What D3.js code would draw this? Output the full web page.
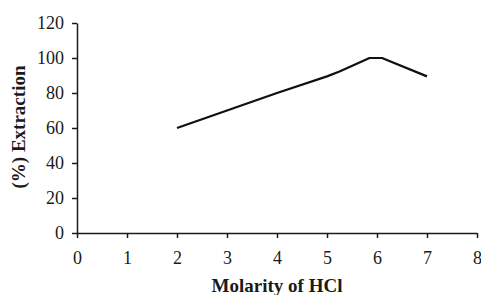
<!DOCTYPE html>
<html>
<head>
<meta charset="utf-8">
<script src="https://cdn.jsdelivr.net/npm/d3@7"></script>
<style>
  html, body { margin: 0; padding: 0; background: #fff; }
  svg { display: block; }
  .axis path, .axis line { stroke: #1a1a1a; stroke-width: 1.5; }
</style>
</head>
<body>
<div id="chart"></div>
<script>
// values
const molarity   = [2, 3, 4, 5, 5.25, 5.85, 6.1, 7];
const extraction = [60, 70, 80, 89.5, 92.3, 100, 100, 89.5];
const xTicks = [0, 1, 2, 3, 4, 5, 6, 7, 8];
const yTicks = [0, 20, 40, 60, 80, 100, 120];

const serif = '"Liberation Serif", "Times New Roman", Times, serif';
const width = 481, height = 295;
const margin = { left: 77, right: 4, top: 23, bottom: 62 };

const svg = d3.select('#chart').append('svg')
  .attr('width', width)
  .attr('height', height);

const x = d3.scaleLinear().domain([0, 8]).range([margin.left, width - margin.right]);
const y = d3.scaleLinear().domain([0, 120]).range([height - margin.bottom, margin.top]);

// x axis
const gx = svg.append('g')
  .attr('class', 'axis')
  .attr('transform', `translate(0,${y(0)})`)
  .call(d3.axisBottom(x).tickValues(xTicks).tickFormat(d3.format('d')).tickSize(5).tickSizeOuter(0).tickPadding(13));

// y axis
const gy = svg.append('g')
  .attr('class', 'axis')
  .attr('transform', `translate(${x(0)},0)`)
  .call(d3.axisLeft(y).tickValues(yTicks).tickFormat(d3.format('d')).tickSize(5).tickSizeOuter(0).tickPadding(8));

[gx, gy].forEach(g => {
  g.attr('font-family', serif).attr('font-size', 18);
  g.selectAll('text')
    .style('font-family', serif)
    .style('font-size', '18px')
    .attr('fill', '#1a1a1a');
});

// line
const line = d3.line()
  .x((d, i) => x(molarity[i]))
  .y(d => y(d));

svg.append('path')
  .datum(extraction)
  .attr('fill', 'none')
  .attr('stroke', '#111')
  .attr('stroke-width', 2.2)
  .attr('stroke-linejoin', 'round')
  .attr('d', line);

// axis titles
svg.append('text')
  .attr('x', x(4))
  .attr('y', 292)
  .attr('text-anchor', 'middle')
  .style('font-family', serif)
  .style('font-size', '19px')
  .style('font-weight', 'bold')
  .attr('fill', '#1a1a1a')
  .text('Molarity of HCl');

svg.append('text')
  .attr('transform', `translate(25,${y(60) - 1}) rotate(-90)`)
  .attr('text-anchor', 'middle')
  .style('font-family', serif)
  .style('font-size', '19px')
  .style('font-weight', 'bold')
  .attr('fill', '#1a1a1a')
  .text('(%) Extraction');
</script>
</body>
</html>
